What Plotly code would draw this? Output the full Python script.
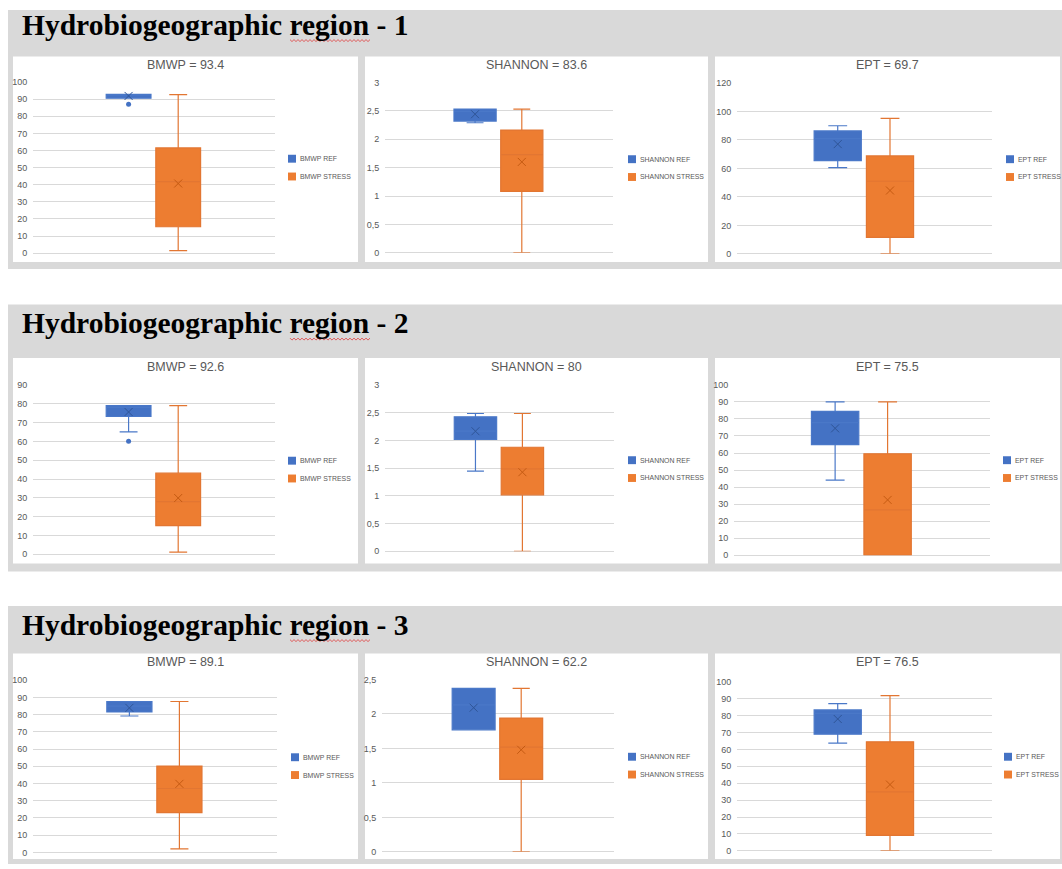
import plotly.graph_objects as go

W, H = 1062, 869


def fx(px):
    return px / W


def fy(py):
    return 1 - py / H


# ---------------- data ----------------
regions = ["1", "2", "3"]
indices = ["BMWP", "SHANNON", "EPT"]
panel_values = ["93.4", "83.6", "69.7", "92.6", "80", "75.5", "89.1", "62.2", "76.5"]

y_max = [100, 3, 120, 90, 3, 100, 100, 2.5, 100]
y_dtick = [10, 0.5, 20, 10, 0.5, 10, 10, 0.5, 10]

# reference sites (order: R1 BMWP, R1 SHANNON, R1 EPT, R2 ..., R3 ...)
ref_lower = [90.6, 2.29, 60.6, 65.0, 1.45, 44.1, 79.2, 1.77, 63.7]
ref_q1 = [90.6, 2.32, 65.5, 73.2, 2.02, 65.0, 81.5, 1.77, 69.0]
ref_median = [92.3, 2.49, 80.9, 78.0, 2.17, 77.8, 84.9, 2.13, 81.3]
ref_q3 = [92.9, 2.53, 86.4, 79.0, 2.43, 84.5, 87.6, 2.37, 83.4]
ref_upper = [92.9, 2.53, 90.0, 79.0, 2.49, 90.0, 87.6, 2.37, 87.1]
ref_mean = [91.9, 2.44, 77.1, 75.6, 2.17, 74.5, 83.9, 2.09, 78.0]
ref_outliers = [[87], [], [], [60], [], [], [], [], []]

# stressed sites
str_lower = [1.4, 0.0, 0.0, 1.2, 0.0, 0.0, 2.1, 0.0, 0.0]
str_q1 = [15.4, 1.08, 11.6, 15.2, 1.02, 0.0, 23.1, 1.05, 9.2]
str_median = [41.8, 1.73, 51.0, 28.0, 1.49, 26.7, 37.1, 1.52, 34.9]
str_q3 = [61.5, 2.16, 68.8, 43.1, 1.88, 59.6, 50.1, 1.94, 64.5]
str_upper = [92.7, 2.53, 95.2, 79.0, 2.49, 90.0, 87.6, 2.37, 91.8]
str_mean = [40.7, 1.60, 44.5, 29.9, 1.43, 32.5, 39.8, 1.48, 39.2]

# ---------------- layout geometry (pixels) ----------------
plot_boxes = [
    (33, 275, 78, 251), (385, 613, 78.3, 250.7), (737, 992, 79, 251.7),
    (33, 275, 384.3, 555.7), (385, 614, 384.7, 552.7), (734, 990, 384.3, 556.7),
    (33, 277, 683, 857.3), (382, 614, 682.3, 856.7), (737, 992, 684.7, 855.7),
]
panel_rects = [
    (13, 358, 52, 260), (365, 708, 52, 260), (715, 1060, 52, 260),
    (13, 358, 357, 565), (365, 708, 357, 565), (715, 1060, 357, 565),
    (13, 358, 656, 864), (365, 708, 656, 864), (715, 1060, 656, 864),
]
block_rects = [(8, 1062, 5, 267), (8, 1062, 303, 573), (8, 1062, 608, 869)]
block_title_y = [20, 322, 627]
legend_pos = [
    (288, 155.5), (628, 156), (1006, 156),
    (288, 461), (628, 460.5), (1003, 460.5),
    (291, 761), (628, 760.5), (1004, 760.5),
]

REF_FILL = "#4472C4"
REF_LINE = "#4A78C8"
STR_FILL = "#ED7D31"
STR_LINE = "#E27632"
POS_REF, POS_STR, BOX_W = 0.395, 0.6, 0.185

fig = go.Figure()
shapes = []
annotations = []

for b, (x0, x1, y0, y1) in enumerate(block_rects):
    shapes.append(dict(type="rect", xref="paper", yref="paper", x0=fx(x0), x1=fx(x1),
                       y0=fy(y1), y1=fy(y0), fillcolor="#D9D9D9", line=dict(width=0),
                       layer="below"))
    annotations.append(dict(text="<b>Hydrobiogeographic region - " + regions[b] + "</b>",
                            xref="paper", yref="paper", x=fx(20), y=fy(block_title_y[b]),
                            xanchor="left", yanchor="middle", showarrow=False,
                            font=dict(family="Liberation Serif", size=29.5, color="#000000")))
    # spell-check style wavy underline under "region"
    wy = block_title_y[b] + 16
    pts = []
    xw = 290.0
    up = True
    while xw <= 370:
        pts.append((fx(xw), fy(wy - 1 if up else wy + 1)))
        up = not up
        xw += 2
    path = "M" + " L".join(f"{a:.5f},{c:.5f}" for a, c in pts)
    shapes.append(dict(type="path", xref="paper", yref="paper", path=path,
                       line=dict(color="#E03C3C", width=0.8), layer="above"))

for i in range(9):
    n = i + 1
    xa, ya = f"x{n}", f"y{n}"
    name = indices[i % 3]
    px0, px1, pyt, pyb = plot_boxes[i]
    rx0, rx1, ry0, ry1 = panel_rects[i]

    shapes.append(dict(type="rect", xref="paper", yref="paper", x0=fx(rx0), x1=fx(rx1),
                       y0=fy(ry1), y1=fy(ry0), fillcolor="#FFFFFF", line=dict(width=0),
                       layer="below"))

    fig.add_trace(go.Box(
        x=[POS_REF], q1=[ref_q1[i]], median=[ref_median[i]], q3=[ref_q3[i]],
        lowerfence=[ref_lower[i]], upperfence=[ref_upper[i]],
        width=BOX_W, whiskerwidth=0.4, fillcolor=REF_FILL,
        line=dict(color=REF_LINE, width=1.2), boxpoints=False,
        name=name + " REF", showlegend=False, xaxis=xa, yaxis=ya))
    fig.add_trace(go.Box(
        x=[POS_STR], q1=[str_q1[i]], median=[str_median[i]], q3=[str_q3[i]],
        lowerfence=[str_lower[i]], upperfence=[str_upper[i]],
        width=BOX_W, whiskerwidth=0.4, fillcolor=STR_FILL,
        line=dict(color=STR_LINE, width=1.2), boxpoints=False,
        name=name + " STRESS", showlegend=False, xaxis=xa, yaxis=ya))
    # mean markers
    fig.add_trace(go.Scatter(
        x=[POS_REF, POS_STR], y=[ref_mean[i], str_mean[i]], mode="markers",
        marker=dict(symbol="x-thin", size=8,
                    line=dict(width=1, color=["#2F5597", "#C55A11"])),
        showlegend=False, hoverinfo="y", xaxis=xa, yaxis=ya))
    # outliers
    if ref_outliers[i]:
        fig.add_trace(go.Scatter(
            x=[POS_REF] * len(ref_outliers[i]), y=ref_outliers[i], mode="markers",
            marker=dict(symbol="circle", size=5, color=REF_FILL),
            showlegend=False, xaxis=xa, yaxis=ya))

    fig.layout[f"xaxis{n}"] = dict(domain=[fx(px0), fx(px1)], range=[0, 1], visible=False,
                                   anchor=ya, fixedrange=True)
    fig.layout[f"yaxis{n}"] = dict(domain=[fy(pyb), fy(pyt)], range=[0, y_max[i]],
                                   tick0=0, dtick=y_dtick[i], anchor=xa,
                                   showgrid=True, gridcolor="#D9D9D9", gridwidth=1,
                                   zeroline=True, zerolinecolor="#D9D9D9", zerolinewidth=1,
                                   showline=False, ticks="outside", ticklen=3,
                                   tickcolor="rgba(0,0,0,0)",
                                   tickfont=dict(family="Liberation Sans", size=9,
                                                 color="#595959"),
                                   fixedrange=True)

    # panel title
    annotations.append(dict(text=f"{name} = {panel_values[i]}", xref="paper", yref="paper",
                            x=fx((rx0 + rx1) / 2), y=fy(ry0 + 9), xanchor="center",
                            yanchor="middle", showarrow=False,
                            font=dict(family="Liberation Sans", size=12.5, color="#595959")))

    # legend (squares + labels)
    lx, ly = legend_pos[i]
    for k, (lab, col) in enumerate([(name + " REF", REF_FILL), (name + " STRESS", STR_FILL)]):
        cy = ly + k * 18
        shapes.append(dict(type="rect", xref="paper", yref="paper", x0=fx(lx), x1=fx(lx + 8),
                           y0=fy(cy + 4), y1=fy(cy - 4), fillcolor=col, line=dict(width=0),
                           layer="above"))
        annotations.append(dict(text=lab, xref="paper", yref="paper", x=fx(lx + 10),
                                y=fy(cy), xanchor="left", yanchor="middle", showarrow=False,
                                font=dict(family="Liberation Sans", size=6.9,
                                          color="#595959")))

fig.update_layout(
    width=W, height=H, margin=dict(l=0, r=0, t=0, b=0),
    paper_bgcolor="#FFFFFF", plot_bgcolor="rgba(0,0,0,0)",
    boxmode="overlay", separators=",.",
    shapes=shapes, annotations=annotations, showlegend=False,
)

fig.write_html("out.html",
               config={"displayModeBar": False},
               post_script="document.body.style.margin='0';"
                           "document.body.style.padding='0';"
                           "document.body.style.overflow='hidden';")
